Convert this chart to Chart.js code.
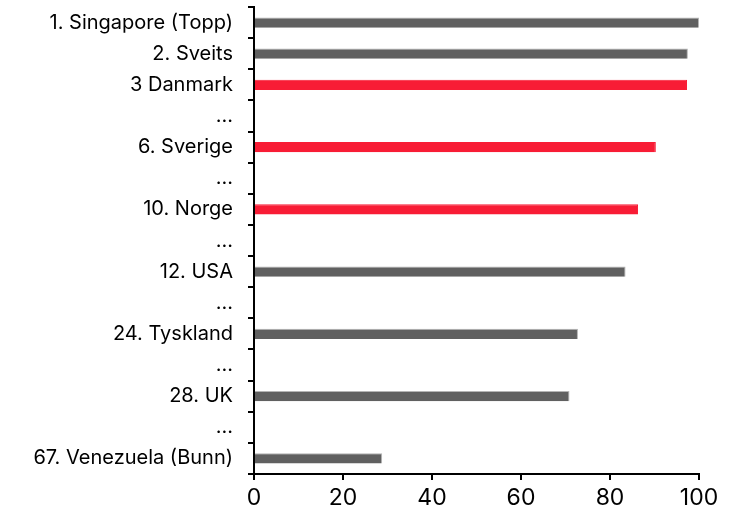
<!DOCTYPE html>
<html>
<head>
<meta charset="utf-8">
<script src="https://cdn.jsdelivr.net/npm/chart.js@4"></script>
<style>
  html, body { margin: 0; padding: 0; background: #fff; }
  #wrap { width: 742px; height: 514px; }
</style>
</head>
<body>
<div id="wrap"><canvas id="rangering"></canvas></div>
<script>
// Kategorier, inkl. "..." som tomme rader
var land = ['1. Singapore (Topp)', '2. Sveits', '3 Danmark', '...', '6. Sverige', '...', '10. Norge', '...', '12. USA', '...', '24. Tyskland', '...', '28. UK', '...', '67. Venezuela (Bunn)'];
var verdier = [100, 97.5, 97.3, null, 90.3, null, 86.3, null, 83.5, null, 72.8, null, 70.9, null, 28.8];
var nordisk = [false, false, true, false, true, false, true, false, false, false, false, false, false, false, false];
var xTicks = [0, 20, 40, 60, 80, 100];

var graa = '#606060';
var rod = '#f81c35';

var farger = nordisk.map(function (n) { return n ? rod : graa; });
var kanter = nordisk.map(function (n) { return n ? rod : '#b4b4b4'; });

var ctx = document.getElementById('rangering').getContext('2d');

var chart = new Chart(ctx, {
  type: 'bar',
  data: {
    labels: land,
    datasets: [{
      data: verdier,
      backgroundColor: farger,
      borderColor: kanter,
      borderWidth: { top: 1, right: 1, bottom: 0, left: 0 },
      borderSkipped: false,
      barPercentage: 0.33,
      categoryPercentage: 1
    }]
  },
  options: {
    indexAxis: 'y',
    responsive: true,
    maintainAspectRatio: false,
    animation: false,
    layout: {
      padding: { top: 7, right: 43, bottom: 0, left: 0 }
    },
    plugins: {
      legend: { display: false },
      tooltip: { enabled: false }
    },
    scales: {
      x: {
        min: 0,
        max: 100,
        afterFit: function (s) { s.height = 40; },
        afterBuildTicks: function (s) { s.ticks = xTicks.map(function (v) { return { value: v }; }); },
        border: { color: '#000', width: 2 },
        grid: { drawOnChartArea: false, color: '#000', lineWidth: 2, tickLength: 6 },
        ticks: {
          color: '#000',
          padding: 4,
          maxRotation: 0,
          font: { family: 'Inter', size: 23 }
        }
      },
      y: {
        afterFit: function (s) {
          s.width = 254;
          // ingen ekstra luft over/under kategoriene
          s.paddingTop = 0;
          s.paddingBottom = 0;
        },
        border: { color: '#000', width: 2 },
        grid: { drawOnChartArea: false, color: '#000', lineWidth: 2, tickLength: 6, offset: true },
        ticks: {
          color: '#000',
          padding: 15,
          autoSkip: false,
          font: { family: 'Inter', size: 20 }
        }
      }
    }
  }
});
</script>
</body>
</html>
